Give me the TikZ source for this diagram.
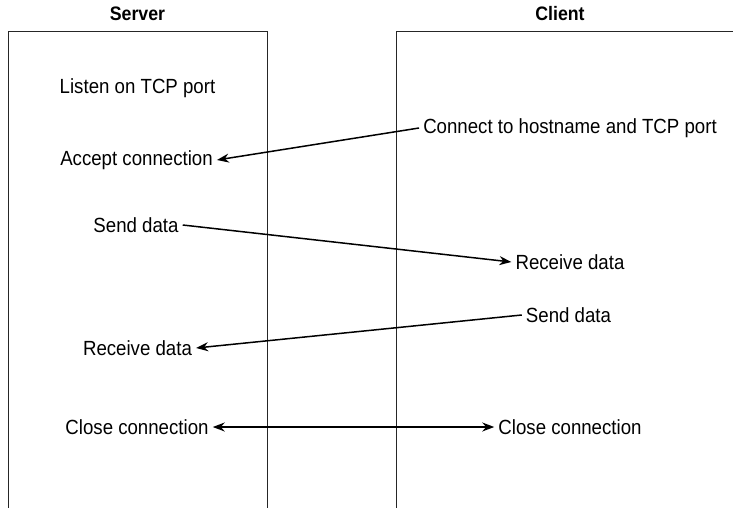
\documentclass[tikz,border=0pt]{standalone}
\usepackage{fontspec}
\setmainfont[FakeStretch=0.91]{Liberation Sans}
\usetikzlibrary{arrows.meta}
\begin{document}
\begin{tikzpicture}[x=1pt,y=-1pt,
  lbl/.style={font=\fontsize{20.5}{22}\selectfont, inner sep=4pt},
  ttl/.style={font=\fontsize{19.5}{21}\selectfont\bfseries, inner sep=0pt},
  lane/.style={line width=1pt, draw=black!85},
  arr/.style={line width=1.5pt, -{Stealth[length=12pt,width=9pt]}},
  darr/.style={line width=1.5pt, {Stealth[length=12pt,width=9pt]}-{Stealth[length=12pt,width=9pt]}}]
\useasboundingbox (0,0) rectangle (733,508);
% lanes
\draw[lane] (8,510) -- (8,32) -- (267,32) -- (267,510);
\draw[lane] (396,510) -- (396,32) -- (735,32);
% titles
\node[ttl] (server) at (137.5,14) {Server};
\node[ttl] (client) at (560,14) {Client};
% labels
\node[lbl] (listen) at (137.5,88) {Listen on TCP port};
\node[lbl] (accept) at (136.5,160) {Accept connection};
\node[lbl] (connect) at (570,128) {Connect to hostname and TCP port};
\node[lbl] (send1) at (136,225) {Send data};
\node[lbl] (recv1) at (570,262) {Receive data};
\node[lbl] (send2) at (568.5,315) {Send data};
\node[lbl] (recv2) at (137.5,348) {Receive data};
\node[lbl] (close1) at (137,427) {Close connection};
\node[lbl] (close2) at (570,427) {Close connection};
% arrows
\draw[arr] (connect.west) -- (accept.east);
\draw[arr] (send1.east) -- (recv1.west);
\draw[arr] (send2.west) -- (recv2.east);
\draw[darr] (close1.east) -- (close2.west);
\end{tikzpicture}
\end{document}
